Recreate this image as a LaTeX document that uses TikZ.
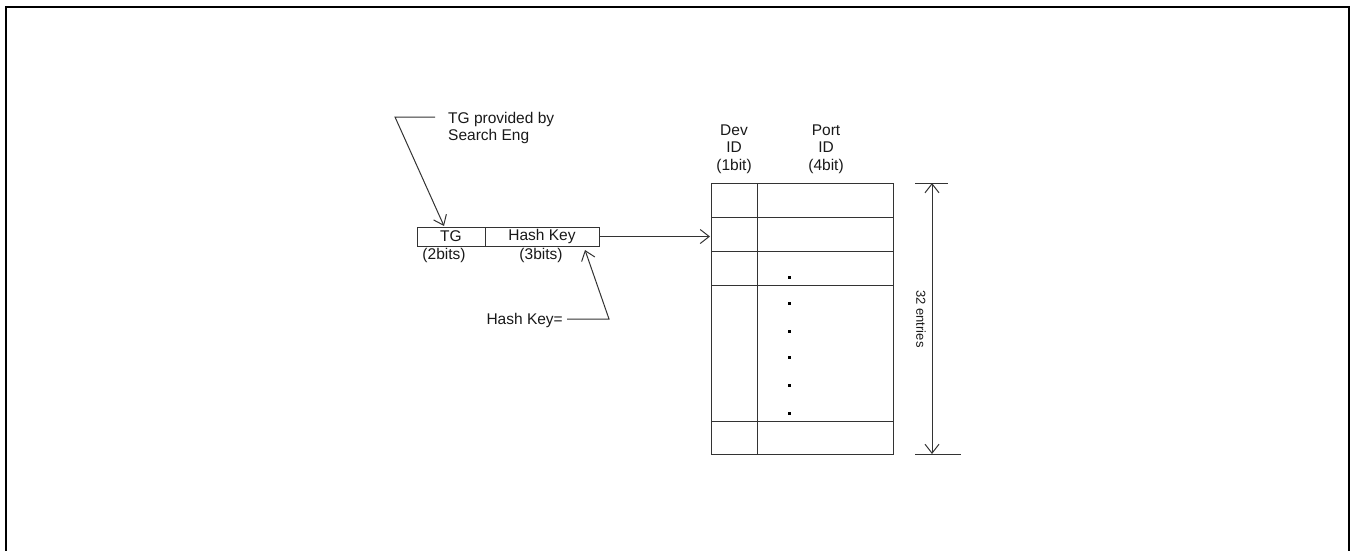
\documentclass[tikz,border=0pt]{standalone}
\usepackage{fontspec}
\setmainfont{Liberation Sans}
\usetikzlibrary{arrows.meta}
\begin{document}
\begin{tikzpicture}[x=1pt,y=-1pt,
  ln/.style={line width=1pt, draw=black!80},
  barb/.style={-{Straight Barb[length=9pt,width=14pt,line width=1pt]}},
  lbl/.style={font=\fontsize{15.5}{17.5}\selectfont, inner sep=0pt, align=center, text=black!90},
]
\useasboundingbox (0,0) rectangle (1356,550);
\begin{scope}
\clip (0,0) rectangle (1356,550);
\draw[line width=2.6pt] (6,600) -- (6,7) -- (1349,7) -- (1349,600);
\end{scope}
% field box
\draw[ln] (417,227) rectangle (599,246);
\draw[ln] (485,227) -- (485,246);
\node[lbl] (tg) at (451,236) {TG};
\node[lbl] (hk) at (542,236) {Hash Key};
\node[lbl] (b2) at (444,255) {(2bits)};
\node[lbl] (b3) at (541,255) {(3bits)};
\coordinate (boxr) at (599,236.5);
\coordinate (tblin) at (710,236.5);
\draw[ln,barb] (boxr) -- (tblin);
% TG provided by
\node[lbl, anchor=west, align=left] (tgp) at (448,128) {TG provided by\\Search Eng};
\coordinate (tgl1) at (435,117);
\coordinate (tgl2) at (395,117);
\coordinate (tgtip) at (444,226);
\draw[ln,barb] (tgl1) -- (tgl2) -- (tgtip);
% Hash Key=
\node[lbl, anchor=east] (hke) at (563,320) {Hash Key=};
\coordinate (hk1) at (567,319);
\coordinate (hk2) at (609,319);
\coordinate (hktip) at (585,250);
\draw[ln,barb] (hk1) -- (hk2) -- (hktip);
% table
\draw[ln] (711,183) rectangle (893,454);
\draw[ln] (757,183) -- (757,454);
\foreach \y in {217,251,285,421} \draw[ln] (711,\y) -- (893,\y);
\foreach \y in {277,303,331,357,385,413} \fill (788,\y-1.5) rectangle ++(3,3);
% headers
\node[lbl] (dev) at (734,149) {Dev\\ID\\(1bit)};
\node[lbl] (port) at (826,149) {Port\\ID\\(4bit)};
% dimension
\coordinate (dt1) at (915,183);
\coordinate (dt2) at (948,183);
\coordinate (db1) at (915,454);
\coordinate (db2) at (961,454);
\draw[ln] (dt1) -- (dt2);
\draw[ln] (db1) -- (db2);
\coordinate (dtop) at (932,183);
\coordinate (dbot) at (932,454);
\draw[ln,{Straight Barb[length=9pt,width=14pt,line width=1pt]}-{Straight Barb[length=9pt,width=14pt,line width=1pt]}] (dtop) -- (dbot);
\node[lbl, rotate=-90, font=\fontsize{13}{15}\selectfont] (ent) at (921,319) {32 entries};
\end{tikzpicture}
\end{document}
